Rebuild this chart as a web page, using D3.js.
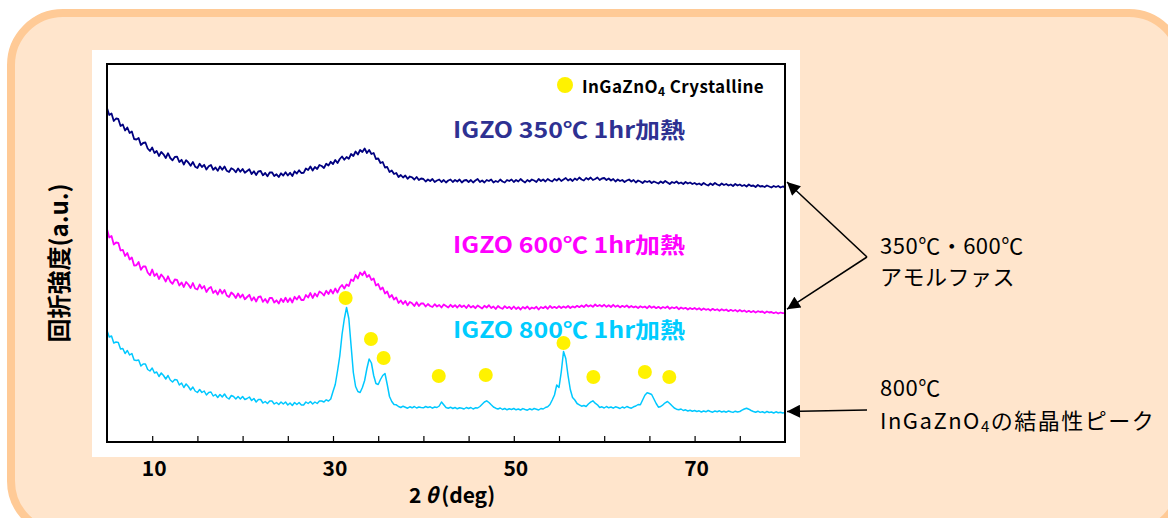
<!DOCTYPE html>
<html>
<head>
<meta charset="utf-8">
<script src="https://cdn.jsdelivr.net/npm/d3@7"></script>
<style>
  body { margin: 0; background: #fff; }
  svg { display: block; }
  text { font-family: "Noto Sans CJK JP", "Noto Sans", sans-serif; }
</style>
</head>
<body>
<div class="wrapper"></div>
<script>
// 2θ grid (deg), 0.25 deg step, 5..80
const twoTheta = d3.range(5, 80.001, 0.25)

// intensities (a.u.), each row = 5 deg
const igzo350 = [
  3340, 3270, 3285, 3210, 3235, 3230, 3160, 3175, 3115, 3145, 3090, 3105, 3030, 3025, 3040, 2970, 2990, 2995, 2935, 2910,
  2945, 2890, 2910, 2860, 2900, 2877, 2840, 2888, 2840, 2817, 2850, 2853, 2800, 2822, 2775, 2818, 2795, 2762, 2800, 2753,
  2740, 2782, 2750, 2772, 2725, 2757, 2770, 2722, 2745, 2712, 2755, 2722, 2755, 2712, 2700, 2737, 2725, 2697, 2735, 2702,
  2730, 2692, 2710, 2727, 2680, 2707, 2670, 2707, 2710, 2667, 2690, 2657, 2695, 2697, 2660, 2677, 2650, 2687, 2665, 2697,
  2665, 2692, 2660, 2707, 2685, 2717, 2690, 2692, 2735, 2720, 2755, 2715, 2750, 2730, 2770, 2760, 2740, 2782, 2765, 2802,
  2780, 2820, 2790, 2830, 2855, 2822, 2850, 2832, 2880, 2860, 2905, 2875, 2920, 2900, 2935, 2890, 2920, 2880, 2890, 2830,
  2835, 2790, 2800, 2745, 2750, 2700, 2715, 2680, 2690, 2650, 2670, 2645, 2665, 2632, 2655, 2647, 2625, 2650, 2620, 2635,
  2630, 2605, 2625, 2610, 2630, 2600, 2615, 2625, 2600, 2620, 2595, 2615, 2625, 2600, 2620, 2605, 2625, 2595, 2615, 2620,
  2600, 2620, 2595, 2615, 2630, 2600, 2615, 2595, 2620, 2610, 2625, 2595, 2610, 2600, 2625, 2605, 2595, 2620, 2610, 2625,
  2600, 2620, 2605, 2630, 2610, 2595, 2620, 2605, 2625, 2615, 2600, 2630, 2610, 2625, 2605, 2630, 2615, 2605, 2630, 2615,
  2635, 2610, 2625, 2640, 2615, 2630, 2610, 2635, 2620, 2645, 2625, 2615, 2640, 2625, 2645, 2620, 2630, 2645, 2620, 2635,
  2640, 2620, 2635, 2615, 2630, 2605, 2625, 2610, 2620, 2600, 2615, 2625, 2605, 2620, 2595, 2615, 2605, 2590, 2610, 2600,
  2610, 2590, 2605, 2595, 2585, 2605, 2590, 2610, 2595, 2580, 2600, 2590, 2605, 2585, 2595, 2580, 2600, 2585, 2595, 2580,
  2590, 2575, 2585, 2570, 2590, 2575, 2565, 2585, 2570, 2590, 2575, 2565, 2585, 2570, 2580, 2565, 2575, 2560, 2580, 2565,
  2575, 2560, 2570, 2555, 2575, 2560, 2565, 2550, 2570, 2555, 2560, 2550, 2565, 2555, 2545, 2560, 2550, 2560, 2545, 2555,
  2550
]
const igzo600 = [
  2130, 2045, 2060, 1975, 1995, 1992, 1915, 1922, 1860, 1890, 1825, 1845, 1765, 1767, 1800, 1722, 1755, 1757, 1695, 1667,
  1725, 1660, 1685, 1630, 1675, 1647, 1605, 1657, 1605, 1582, 1625, 1622, 1565, 1595, 1550, 1600, 1575, 1540, 1590, 1535,
  1525, 1575, 1535, 1560, 1500, 1535, 1550, 1490, 1515, 1475, 1525, 1485, 1520, 1465, 1450, 1495, 1475, 1440, 1485, 1445,
  1475, 1427, 1450, 1472, 1415, 1447, 1405, 1452, 1455, 1402, 1430, 1392, 1440, 1442, 1395, 1417, 1385, 1432, 1400, 1442,
  1400, 1437, 1395, 1452, 1425, 1460, 1420, 1420, 1470, 1445, 1490, 1440, 1485, 1455, 1505, 1490, 1465, 1512, 1480, 1522,
  1485, 1535, 1495, 1545, 1570, 1535, 1575, 1560, 1625, 1610, 1670, 1635, 1695, 1668, 1705, 1650, 1670, 1620, 1635, 1565,
  1580, 1525, 1545, 1485, 1505, 1445, 1470, 1425, 1445, 1390, 1415, 1380, 1410, 1367, 1400, 1387, 1360, 1397, 1360, 1387,
  1385, 1355, 1380, 1360, 1350, 1378, 1355, 1370, 1345, 1375, 1360, 1345, 1372, 1350, 1368, 1345, 1370, 1350, 1365, 1340,
  1370, 1345, 1360, 1338, 1365, 1350, 1335, 1362, 1345, 1368, 1340, 1355, 1330, 1360, 1342, 1332, 1358, 1338, 1352, 1330,
  1355, 1330, 1348, 1325, 1350, 1335, 1355, 1328, 1345, 1335, 1352, 1325, 1350, 1338, 1355, 1332, 1360, 1340, 1352, 1338,
  1358, 1340, 1355, 1342, 1360, 1340, 1356, 1345, 1362, 1348, 1366, 1350, 1372, 1355, 1368, 1352, 1375, 1358, 1370, 1355,
  1372, 1352, 1368, 1350, 1372, 1352, 1365, 1346, 1362, 1350, 1366, 1345, 1360, 1346, 1356, 1340, 1358, 1345, 1355, 1338,
  1360, 1342, 1355, 1338, 1352, 1335, 1350, 1340, 1355, 1332, 1348, 1338, 1350, 1328, 1345, 1332, 1342, 1325, 1340, 1328,
  1340, 1325, 1338, 1320, 1335, 1322, 1330, 1315, 1332, 1318, 1328, 1312, 1328, 1315, 1325, 1308, 1322, 1310, 1320, 1305,
  1320, 1305, 1315, 1300, 1312, 1298, 1310, 1295, 1308, 1300, 1305, 1290, 1305, 1295, 1300, 1288, 1298, 1285, 1295, 1288,
  1288
]
const igzo800 = [
  1115, 1050, 1060, 990, 1000, 995, 930, 935, 885, 915, 870, 885, 820, 815, 820, 760, 780, 780, 725, 710,
  740, 690, 700, 655, 690, 665, 630, 665, 620, 600, 625, 620, 570, 590, 545, 580, 555, 520, 550, 510,
  495, 525, 495, 510, 470, 495, 500, 460, 475, 445, 475, 450, 480, 445, 430, 465, 455, 430, 455, 430,
  455, 425, 435, 450, 415, 435, 400, 425, 425, 390, 405, 385, 410, 410, 380, 395, 375, 400, 380, 400,
  370, 390, 365, 395, 375, 395, 370, 370, 400, 385, 405, 380, 400, 385, 410, 410, 400, 422, 410, 430,
  505, 575, 710, 860, 1075, 1230, 1345, 1235, 965, 695, 555, 505, 495, 545, 615, 735, 830, 790, 665, 585,
  575, 625, 665, 685, 575, 455, 405, 375, 372, 355, 345, 358, 348, 338, 352, 342, 355, 340, 350, 345,
  342, 355, 345, 352, 338, 350, 345, 360, 400, 372, 345, 338, 348, 335, 345, 332, 342, 338, 330, 345,
  335, 345, 330, 342, 340, 355, 378, 400, 412, 395, 372, 350, 338, 330, 340, 325, 335, 322, 332, 325,
  335, 322, 330, 320, 334, 325, 318, 332, 322, 335, 328, 320, 335, 330, 345, 352, 375, 420, 470, 570,
  545, 700, 905, 835, 665, 525, 445, 420, 385, 372, 358, 365, 355, 380, 398, 412, 388, 372, 345, 352,
  340, 355, 342, 350, 338, 352, 345, 335, 350, 340, 355, 345, 338, 352, 360, 375, 372, 420, 468, 492,
  485, 475, 430, 385, 348, 355, 372, 392, 405, 385, 362, 340, 328, 322, 330, 315, 322, 310, 318, 308,
  315, 305, 312, 300, 310, 302, 315, 305, 298, 310, 302, 312, 300, 308, 298, 310, 302, 296, 308, 300,
  305, 318, 330, 338, 328, 315, 305, 298, 308, 296, 302, 292, 305, 295, 300, 290, 302, 292, 298, 290,
  295
]

// InGaZnO4 crystalline peak markers
const peakTheta = [31.4, 34.2, 35.6, 41.7, 46.9, 55.5, 58.8, 64.5, 67.2]
const peakMark = [1440, 1030, 840, 660, 670, 990, 650, 700, 650]

const tickValues = d3.range(10, 76, 5)
const tickLabels = [10, 30, 50, 70]

const seriesList = [
  {values: igzo350, line: "#000080", width: 1.8, labelColor: "#2e3192", label: "IGZO 350℃ 1hr加熱"},
  {values: igzo600, line: "#ff00ff", width: 1.8, labelColor: "#ff00ff", label: "IGZO 600℃ 1hr加熱"},
  {values: igzo800, line: "#00c8ff", width: 1.5, labelColor: "#00ccff", label: "IGZO 800℃ 1hr加熱"},
]

const width = 1168
const height = 518
const plot = {left: 107, top: 64, right: 785, bottom: 442}

const svg = d3.select(".wrapper").append("svg")
    .attr("width", width)
    .attr("height", height)

const defs = svg.append("defs")
defs.append("marker")
    .attr("id", "arrow")
    .attr("viewBox", "0 0 10 10")
    .attr("refX", 10).attr("refY", 5)
    .attr("markerUnits", "userSpaceOnUse")
    .attr("markerWidth", 15).attr("markerHeight", 13)
    .attr("orient", "auto")
  .append("path")
    .attr("d", "M0,0 L10,5 L0,10 Z")
    .attr("fill", "#000")

// peach rounded panel
svg.append("rect")
    .attr("x", 11).attr("y", 13)
    .attr("width", 1170).attr("height", 520)
    .attr("rx", 52).attr("ry", 52)
    .attr("fill", "#ffe5cc")
    .attr("stroke", "#ffca96")
    .attr("stroke-width", 8)

// white chart area
svg.append("rect")
    .attr("x", 92).attr("y", 50)
    .attr("width", 708).attr("height", 407)
    .attr("fill", "#fff")

const x = d3.scaleLinear().domain([5, 80]).range([plot.left, plot.right])
const y = d3.scaleLinear().domain([0, 3780]).range([plot.bottom, plot.top])

const lineGen = (vals) => d3.line()
    .x((d, i) => x(twoTheta[i]))
    .y(d => y(d))(vals)

seriesList.forEach(s => {
  svg.append("path")
      .attr("d", lineGen(s.values))
      .attr("fill", "none")
      .attr("stroke", s.line)
      .attr("stroke-width", s.width)
      .attr("stroke-linejoin", "round")
})

svg.selectAll(".peak")
  .data(peakTheta)
  .enter().append("circle")
    .attr("class", "peak")
    .attr("cx", d => x(d))
    .attr("cy", (d, i) => y(peakMark[i]))
    .attr("r", 7)
    .attr("fill", "#fff200")

// frame
svg.append("rect")
    .attr("x", plot.left).attr("y", plot.top)
    .attr("width", plot.right - plot.left)
    .attr("height", plot.bottom - plot.top)
    .attr("fill", "none")
    .attr("stroke", "#000")
    .attr("stroke-width", 2)

// inward ticks on bottom axis
const xAxis = d3.axisBottom(x)
    .tickValues(tickValues)
    .tickSizeInner(-6)
    .tickSizeOuter(0)
    .tickFormat("")
const axisG = svg.append("g")
    .attr("transform", `translate(0, ${plot.bottom})`)
    .call(xAxis)
axisG.select(".domain").remove()
axisG.selectAll("line").attr("stroke", "#000").attr("stroke-width", 1.2)

svg.selectAll(".tick-label")
  .data(tickLabels)
  .enter().append("text")
    .attr("class", "tick-label")
    .attr("x", d => x(d) + 2)
    .attr("y", 467)
    .attr("text-anchor", "middle")
    .attr("dominant-baseline", "central")
    .attr("font-size", 21)
    .attr("font-weight", "bold")
    .text(d => d)

const xTitle = svg.append("text")
    .attr("x", 452).attr("y", 494)
    .attr("text-anchor", "middle")
    .attr("dominant-baseline", "central")
    .attr("font-size", 21)
    .attr("font-weight", "bold")
xTitle.append("tspan").text("2")
xTitle.append("tspan").attr("dx", 4).attr("font-style", "italic").text("θ")
xTitle.append("tspan").attr("dx", 3).text("(deg)")

svg.append("text")
    .attr("transform", "translate(57, 263) rotate(-90)")
    .attr("text-anchor", "middle")
    .attr("dominant-baseline", "central")
    .attr("font-size", 24)
    .attr("font-weight", "bold")
    .text("回折強度(a.u.)")

// series labels
const labelPos = [[453, 128], [453, 243], [453, 328]]
seriesList.forEach((s, i) => {
  svg.append("text")
      .attr("x", labelPos[i][0]).attr("y", labelPos[i][1])
      .attr("dominant-baseline", "central")
      .attr("font-size", 22)
      .attr("font-weight", "bold")
      .attr("textLength", 232)
      .attr("lengthAdjust", "spacingAndGlyphs")
      .attr("fill", s.labelColor)
      .text(s.label)
})

// legend
svg.append("circle")
    .attr("cx", 565).attr("cy", 85).attr("r", 8)
    .attr("fill", "#fff200")
const legendText = svg.append("text")
    .attr("x", 582).attr("y", 85)
    .attr("dominant-baseline", "central")
    .attr("font-size", 17)
    .attr("letter-spacing", 0.4)
    .attr("font-weight", "bold")
legendText.append("tspan").text("InGaZnO")
legendText.append("tspan").attr("font-size", 12).attr("dy", 5).text("4")
legendText.append("tspan").attr("dy", -5).text(" Crystalline")

// annotations on the right
const annot = [["350℃・600℃", 244], ["アモルファス", 275], ["800℃", 386]]
annot.forEach(([t, yy]) => {
  svg.append("text")
      .attr("x", 880).attr("y", yy)
      .attr("dominant-baseline", "central")
      .attr("font-size", 22)
      .attr("letter-spacing", 0.5)
      .text(t)
})
const crystText = svg.append("text")
    .attr("x", 880).attr("y", 419)
    .attr("dominant-baseline", "central")
    .attr("font-size", 22)
    .attr("letter-spacing", 1.5)
crystText.append("tspan").text("InGaZnO")
crystText.append("tspan").attr("font-size", 15).attr("dy", 6).text("4")
crystText.append("tspan").attr("dy", -6).text("の結晶性ピーク")

const endX = x(80) + 2
const arrows = [
  [867, 257, endX, y(igzo350[igzo350.length - 1]) - 5],
  [867, 257, endX, y(igzo600[igzo600.length - 1]) - 4],
  [867, 410, endX, y(igzo800[igzo800.length - 1]) - 1],
]
arrows.forEach(([x1, y1, x2, y2]) => {
  svg.append("line")
      .attr("x1", x1).attr("y1", y1)
      .attr("x2", x2).attr("y2", y2)
      .attr("stroke", "#000")
      .attr("stroke-width", 1.5)
      .attr("marker-end", "url(#arrow)")
})
</script>
</body>
</html>
